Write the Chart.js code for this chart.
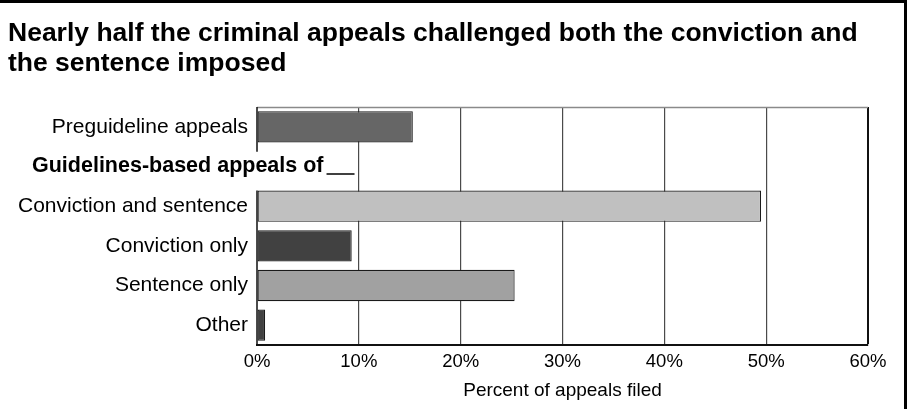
<!DOCTYPE html>
<html>
<head>
<meta charset="utf-8">
<title>Criminal appeals</title>
<script src="https://cdn.jsdelivr.net/npm/chart.js@4/dist/chart.umd.min.js"></script>
<style>
  html, body { margin: 0; padding: 0; background: #fff; }
  #wrap {
    width: 904px;
    height: 406px;
    border-top: 3px solid #000;
    border-right: 3px solid #000;
    position: relative;
  }
</style>
</head>
<body>
<div id="wrap"><canvas id="appealsChart"></canvas></div>
<script>
// data
const categories = [
  'Preguideline appeals',
  'Guidelines-based appeals of',
  'Conviction and sentence',
  'Conviction only',
  'Sentence only',
  'Other'
];
const percentFiled = [15.3, null, 49.5, 9.3, 25.3, 0.8];
const barColors = ['#666666', '#ffffff', '#c0c0c0', '#414141', '#a1a1a1', '#414141'];
const xTicks = [0, 10, 20, 30, 40, 50, 60];
const chartTitle = [
  'Nearly half the criminal appeals challenged both the conviction and',
  'the sentence imposed'
];
const xAxisTitle = 'Percent of appeals filed';
const headerIndex = 1; // the bold group header row

const FONT = '"Liberation Sans", Arial, Helvetica, sans-serif';

// top edge, broken left axis and the header row label with its little dash
const framePlugin = {
  id: 'frame',
  afterDatasetsDraw(chart) {
    const { ctx, chartArea: a, scales: { y } } = chart;
    const meta = chart.getDatasetMeta(0);
    ctx.save();

    // top edge of plot
    ctx.strokeStyle = '#8a8a8a';
    ctx.lineWidth = 1.5;
    ctx.beginPath();
    ctx.moveTo(a.left, a.top + 0.5);
    ctx.lineTo(a.right, a.top + 0.5);
    ctx.stroke();

    // left axis, interrupted at the header row
    const y0 = y.getPixelForValue(headerIndex - 1);
    const y1 = y.getPixelForValue(headerIndex);
    const nextBar = meta.data[headerIndex + 1];
    ctx.strokeStyle = '#111';
    ctx.lineWidth = 1.5;
    ctx.beginPath();
    ctx.moveTo(a.left, a.top);
    ctx.lineTo(a.left, (y0 + y1) / 2 + 5);
    ctx.moveTo(a.left, nextBar.y - nextBar.height / 2);
    ctx.lineTo(a.left, a.bottom);
    ctx.stroke();

    // header label runs into the plot area
    ctx.font = 'bold 21.5px ' + FONT;
    ctx.fillStyle = '#000';
    ctx.textAlign = 'left';
    ctx.textBaseline = 'middle';
    const tx = 32;
    ctx.fillText(categories[headerIndex], tx, y1);
    const w = ctx.measureText(categories[headerIndex]).width;
    ctx.strokeStyle = '#000';
    ctx.lineWidth = 1.5;
    ctx.beginPath();
    ctx.moveTo(tx + w + 3, y1 + 7.5);
    ctx.lineTo(tx + w + 31, y1 + 7.5);
    ctx.stroke();

    ctx.restore();
  }
};

new Chart(document.getElementById('appealsChart'), {
  type: 'bar',
  data: {
    labels: categories,
    datasets: [{
      data: percentFiled,
      backgroundColor: barColors,
      borderColor: '#1a1a1a',
      borderWidth: 1.2,
      borderSkipped: false,
      barPercentage: 0.79,
      categoryPercentage: 1
    }]
  },
  options: {
    indexAxis: 'y',
    responsive: true,
    maintainAspectRatio: false,
    animation: false,
    events: [],
    layout: { padding: { left: 8, right: 36, top: 0, bottom: 0 } },
    plugins: {
      legend: { display: false },
      tooltip: { enabled: false },
      title: {
        display: true,
        text: chartTitle,
        align: 'start',
        color: '#000',
        font: { family: FONT, size: 26.5, weight: 'bold', lineHeight: 1.1 },
        padding: { top: 16.5, bottom: 29.2 }
      }
    },
    scales: {
      x: {
        min: 0,
        max: 60,
        afterBuildTicks: s => { s.ticks = xTicks.map(v => ({ value: v })); },
        ticks: {
          callback: v => v + '%',
          color: '#000',
          padding: 6,
          maxRotation: 0,
          font: { family: FONT, size: 18.5 }
        },
        grid: {
          drawTicks: false,
          color: c => c.index === 0 ? 'rgba(0,0,0,0)' : (c.tick && c.tick.value === 60 ? '#111' : '#4a4a4a'),
          lineWidth: c => c.tick && c.tick.value === 60 ? 2 : 1.2
        },
        border: { display: true, color: '#111', width: 2 },
        title: {
          display: true,
          text: xAxisTitle,
          color: '#000',
          font: { family: FONT, size: 19 },
          padding: { top: 0, bottom: 7 }
        }
      },
      y: {
        afterFit: s => { s.width = 249; },
        grid: { display: false, drawTicks: false, tickLength: 0 },
        border: { display: false },
        ticks: {
          color: '#000',
          padding: 9,
          font: { family: FONT, size: 21 },
          callback: function (v, i) { return i === headerIndex ? '' : this.getLabelForValue(v); }
        }
      }
    }
  },
  plugins: [framePlugin]
});
</script>
</body>
</html>
